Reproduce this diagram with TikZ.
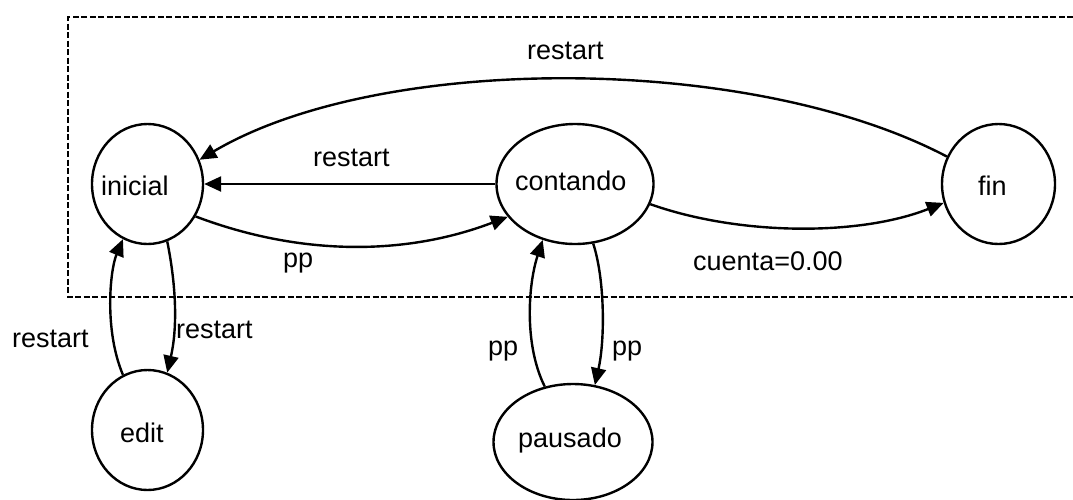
\documentclass[tikz,border=0pt]{standalone}
\usepackage{fontspec}
\setmainfont{Liberation Sans}
\usetikzlibrary{arrows.meta,shapes.geometric}
\begin{document}
\begin{tikzpicture}[x=1pt,y=-1pt,
  state/.style={draw, ellipse, line width=2.4pt, inner sep=0pt},
  lbl/.style={anchor=base west, inner sep=0pt, font=\fontsize{27}{32}\selectfont},
  edge/.style={line width=2.4pt, -{Triangle[length=17pt,width=15pt]}},
  frame/.style={line width=2.7pt, dash pattern=on 6pt off 2.5pt}]
\useasboundingbox (0,0) rectangle (1073,499);
% frame
\draw[frame] (1073,17) -- (68,17) -- (68,297) -- (1073,297);
% states
\node[state, minimum width=111pt, minimum height=120pt] (inicial) at (147.5,184) {};
\node[state, minimum width=157pt, minimum height=120pt] (contando) at (575,184) {};
\node[state, minimum width=113pt, minimum height=120pt] (fin) at (998.5,184) {};
\node[state, minimum width=111pt, minimum height=120pt] (edit) at (147.5,430) {};
\node[state, minimum width=159pt, minimum height=116pt] (pausado) at (573,442) {};
% state texts
\node[lbl] (tinicial) at (101,195) {inicial};
\node[lbl] (tcontando) at (515,190) {contando};
\node[lbl] (tfin) at (978,195) {fin};
\node[lbl] (tedit) at (120,442) {edit};
\node[lbl] (tpausado) at (518,447) {pausado};
% edges
\draw[edge] (fin.152) .. controls (750,53) and (380,53) .. (inicial.25);
\draw[edge] (contando.west) -- (inicial.east);
\draw[edge] (inicial.-34) .. controls (300,256) and (405,256) .. (contando.206);
\draw[edge] (contando.-15) .. controls (740,236) and (860,236) .. (fin.199);
\draw[edge] (inicial.-71) .. controls (177,290) and (177,330) .. (edit.71);
\draw[edge] (edit.114) .. controls (104,330) and (110,270) .. (inicial.246);
\draw[edge] (pausado.117) .. controls (524,345) and (528,285) .. (contando.240);
\draw[edge] (contando.-73) .. controls (605,280) and (605,340) .. (pausado.69);
% edge labels
\node[lbl] (l1) at (527,59) {restart};
\node[lbl] (l2) at (313,166) {restart};
\node[lbl] (l3) at (283,267) {pp};
\node[lbl] (l4) at (693,270) {cuenta=0.00};
\node[lbl] (l5) at (12,347) {restart};
\node[lbl] (l6) at (176,338) {restart};
\node[lbl] (l7) at (488,355) {pp};
\node[lbl] (l8) at (612,355) {pp};
\end{tikzpicture}
\end{document}
